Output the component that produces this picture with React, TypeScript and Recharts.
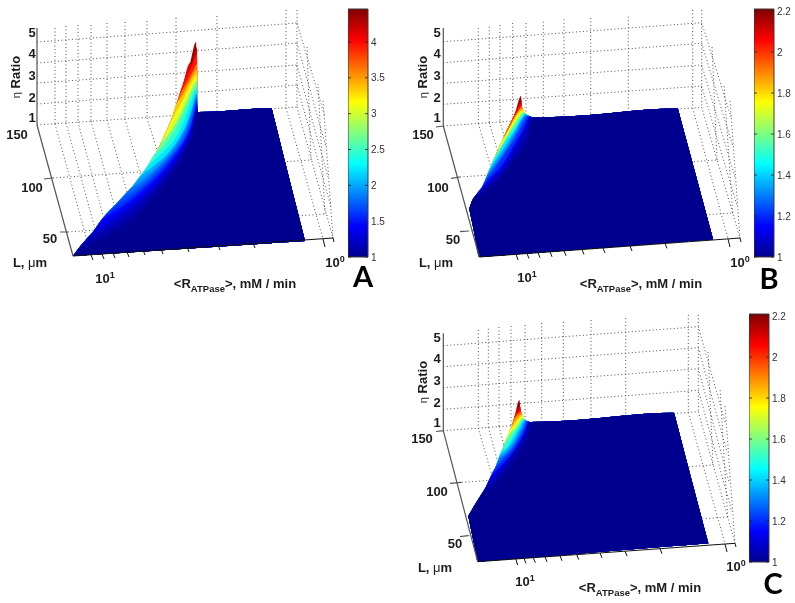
import { Area, Bar, ComposedChart, Line, ReferenceLine, XAxis, YAxis } from 'recharts';

type Pt = [number, number];
type Seg = [number, number, number, number];

// jet colormap, position on the bar -> colour
const jetStops: [number, string][] = [
  [0, '#00008f'],
  [0.125, '#0000ff'],
  [0.375, '#00ffff'],
  [0.625, '#ffff00'],
  [0.875, '#ff0000'],
  [1, '#800000'],
];

// Panel A
const aOuter: Pt[] = [[73, 256], [83, 243], [93, 232], [103, 218], [117, 203], [132, 187], [147, 167], [158, 149], [165, 134], [172, 118], [183, 84], [190, 63], [196, 42]];
const aRim: Pt[] = [[197.6, 112], [198.2, 112], [271, 108.1], [271.6, 108.6], [273, 114], [285, 162], [305, 241]];
const aFloor: Pt[] = [[73, 256], [305, 241]];
const aContours: [number, Pt[]][] = [
  [0.93, [[191, 64], [194, 56], [197, 47]]],
  [0.87, [[186, 78], [191, 68], [197, 55]]],
  [0.78, [[179, 97], [187, 82], [193, 71], [197, 64]]],
  [0.7, [[174, 110], [182, 96], [190, 81], [197, 70]]],
  [0.62, [[168, 127], [176, 112], [184, 98], [192, 82], [197, 75]]],
  [0.5, [[160, 145], [168, 135], [176, 123], [184, 107], [191, 91], [197, 81]]],
  [0.44, [[154, 155], [164, 146], [172, 135], [180, 121], [187, 106], [194, 91], [197, 85]]],
  [0.375, [[147, 167], [160, 155], [174, 140], [183, 124], [190, 105], [197, 89]]],
  [0.31, [[137, 180], [155, 165], [168, 153], [178, 140], [186, 125], [192, 108], [197, 93]]],
  [0.28, [[132, 187], [151, 172], [167, 157], [179, 140.5], [187, 125], [193, 107], [197, 95]]],
  [0.25, [[127, 192], [147, 178], [165, 160], [180, 141], [188, 125], [194, 106], [197, 97]]],
  [0.22, [[119, 201], [138, 188], [158, 170], [176, 150], [186, 133], [192.5, 115], [197, 98.5]]],
  [0.19, [[112, 209], [130, 197], [152, 179], [172, 156], [184, 140], [191, 124], [195, 109], [197, 100]]],
  [0.155, [[106, 216], [124, 205], [146, 187], [166, 167], [180, 148], [189, 131], [194, 115], [197, 102]]],
  [0.125, [[100, 222], [118, 212], [140, 195], [160, 176], [176, 156], [187, 138], [193, 122], [197, 104]]],
  [0.09, [[93, 232], [111, 221], [134, 204], [155, 185], [172, 164], [184.5, 145], [192, 127], [197, 106]]],
  [0.06, [[86, 240], [105, 229], [128, 213], [150, 193], [168, 172], [182, 152], [191, 132], [197, 108]]],
  [0.03, [[79, 250], [104, 235], [127, 221], [150, 199], [169, 176], [184, 152.5], [192.5, 132], [197.2, 110]]],
  [0, [[74, 255], [103, 241], [125, 229], [137, 219], [150, 205], [170, 180], [186, 153], [194, 132], [197.5, 112]]],
];
const aDotted: Seg[] = [
  [37, 42, 297, 23], [37, 63, 297, 43], [37, 83, 297, 65], [37, 104, 297, 85], [37, 125, 297, 107],
  [55, 28, 55, 124], [66, 26, 66, 123], [78, 25, 78, 122], [91, 25, 91, 121], [107, 23, 107, 120], [125, 22, 125, 119], [147, 21, 147, 118], [176, 18, 176, 116], [217, 16, 217, 113], [286, 10, 286, 108], [297, 10, 297, 107],
  [55, 124, 91, 255], [66, 123, 102, 254], [78, 122, 113, 253], [91, 121, 127, 252], [107, 120, 143, 250], [125, 119, 161, 249], [147, 118, 187, 247], [176, 116, 218, 245], [217, 113, 253, 243], [286, 108, 323, 239],
  [53, 178, 311, 160], [68, 232, 325, 214],
  [297, 23, 325, 117], [297, 43, 326, 147], [297, 65, 328, 177], [297, 85, 331, 207], [297, 107, 333, 238],
  [333, 238, 323, 100], [311, 160, 307, 46], [325, 214, 318, 84],
];
const aGreyAxes: Seg[] = [[37, 28, 37, 125], [37, 125, 73, 256], [44, 179, 53, 178], [60, 232, 68, 232]];
const aBlackAxes: Seg[] = [
  [73, 256, 333, 238],
  [91, 255, 93, 260], [102, 254, 104, 259], [113, 253, 115, 258], [127, 252, 129, 257], [143, 250, 145, 255], [161, 249, 163, 254], [187, 247, 189, 252], [218, 245, 220, 250], [253, 243, 255, 248], [323, 239, 325, 247],
  [333, 238, 334, 242],
];

// Panel B
const bOuter: Pt[] = [[469.3, 209], [471.7, 201.7], [476, 195], [482, 187], [490, 168], [499.3, 147], [507, 130], [515, 113], [521, 96]];
const bRim: Pt[] = [[522, 107], [525, 113.3], [528, 115.5], [533.3, 117.3], [560, 116.7], [677.2, 108.4], [677.9, 109], [679, 113], [689, 150], [713, 239.3]];
const bFloor: Pt[] = [[469.3, 209], [479.3, 257], [713, 239.3]];
const bContours: [number, Pt[]][] = [
  [0.93, [[517, 108], [519.5, 104], [521.5, 100]]],
  [0.87, [[514, 116], [517.5, 110], [521.7, 104]]],
  [0.78, [[507, 130], [512, 120], [518, 111], [521.9, 106.5]]],
  [0.7, [[503, 139], [510, 127], [517, 114], [522.7, 108.6]]],
  [0.62, [[500, 145], [507, 133], [514, 120], [520, 112], [523.5, 110.5]]],
  [0.5, [[495, 157], [503, 143], [510, 131], [517, 120], [524, 112.3]]],
  [0.44, [[493, 161], [501, 147.5], [508.5, 135], [515.5, 125], [524.7, 113]]],
  [0.375, [[491, 166], [499, 152], [507, 139], [514, 130], [520, 120], [525.5, 113.8]]],
  [0.31, [[489, 171], [498, 157], [507, 143], [515.5, 130], [521, 120], [526.2, 114.3]]],
  [0.25, [[487, 176], [497, 162], [507, 147], [517, 130], [522, 120], [527, 115]]],
  [0.19, [[484, 183], [493, 171], [503, 156], [515, 138], [522, 125], [528.5, 115.8]]],
  [0.125, [[481, 189], [490, 178], [500, 168], [513, 147], [523, 130], [530, 116.5]]],
  [0.09, [[479, 191], [489, 181], [501, 169.5], [514, 148.5], [524.5, 130], [530.7, 116.8]]],
  [0.06, [[477, 194], [488, 185], [503, 171], [516, 150], [526, 130], [531.5, 117]]],
  [0.03, [[475, 197], [485, 190], [498, 179], [513, 159], [527, 138], [532.2, 117.2]]],
  [0, [[473, 200], [483, 195], [493, 187], [510, 168], [523.3, 147], [531, 130], [533, 117.3]]],
];
const bDotted: Seg[] = [
  [443.3, 41.7, 701.7, 22.7], [443.3, 62.7, 701.7, 43.3], [443.3, 83.3, 701.7, 65], [443.3, 104.3, 701.7, 86], [443.3, 126, 701.7, 107.3],
  [478.3, 28, 478.3, 123.5], [489.3, 26.7, 489.3, 122.7], [500, 25, 500, 121.9], [512.7, 23, 512.7, 121], [526, 23, 526, 120], [543.3, 21.7, 543.3, 118.8], [564, 19.3, 564, 117.3], [590.7, 18, 590.7, 115.3], [628.3, 16.7, 628.3, 112.6], [692.7, 10, 692.7, 108], [701.7, 10, 701.7, 107.3],
  [478.3, 123.5, 516, 254.3], [489.3, 122.7, 527, 253.5], [500, 121.9, 538, 252.7], [512.7, 121, 550, 251.8], [526, 120, 564, 250.8], [543.3, 118.8, 582, 249.5], [564, 117.3, 603, 248], [590.7, 115.3, 630, 246], [628.3, 112.6, 665, 243.4], [692.7, 108, 728, 239],
  [460, 177, 717, 160], [468.3, 231, 732.7, 213],
  [701.7, 22.7, 731, 117], [701.7, 43.3, 733, 147], [701.7, 65, 735, 177], [701.7, 86, 737.5, 207], [701.7, 107.3, 740, 238],
  [740, 238, 730, 100], [717, 160, 712, 46], [732.7, 213, 724, 84],
];
const bGreyAxes: Seg[] = [[443.3, 28, 443.3, 126], [443.3, 126, 479.3, 257], [436, 127, 443.3, 126], [451, 178.3, 460, 177], [460, 231.7, 468.3, 231]];
const bBlackAxes: Seg[] = [
  [479.3, 257, 740, 238],
  [516, 254.3, 518, 260], [527, 253.5, 529, 258.5], [538, 252.7, 540, 257.7], [550, 251.8, 552, 256.8], [564, 250.8, 566, 255.8], [582, 249.5, 584, 254.5], [603, 248, 605, 253], [630, 246, 632, 251], [665, 243.4, 667, 248.4], [728, 239, 730, 247],
  [740, 238, 741, 242],
];

// Panel C
const cOuter: Pt[] = [[468.3, 516], [476, 503], [486, 486.7], [495.7, 466.7], [503.3, 446.7], [511.7, 426.7], [515, 415], [519.3, 400]];
const cRim: Pt[] = [[520.7, 410], [523.3, 418.3], [526, 420.5], [530, 422], [560, 421], [673.5, 412.8], [674.2, 413.4], [675.4, 418], [685, 455], [708.3, 543.3]];
const cFloor: Pt[] = [[468.3, 516], [477.7, 561.7], [708.3, 543.3]];
const cContours: [number, Pt[]][] = [
  [0.93, [[517.5, 408], [520.3, 407]]],
  [0.87, [[515.5, 414], [518, 412], [520.6, 409.6]]],
  [0.78, [[513, 421], [517, 415], [521.3, 412]]],
  [0.7, [[511.5, 426], [516, 419], [522, 414]]],
  [0.62, [[509.5, 431], [514.3, 425], [518.5, 419], [522.7, 415.5]]],
  [0.5, [[507, 438], [511, 432], [516.7, 426.7], [520, 421], [523.2, 418]]],
  [0.44, [[504, 445], [509.3, 439], [515.3, 431], [519.5, 424], [523.8, 418.9]]],
  [0.375, [[501, 452], [507.3, 446.7], [514, 435], [519, 426.7], [524.5, 419.5]]],
  [0.31, [[499, 457], [506, 450], [513, 441], [521, 426.7], [525.2, 420]]],
  [0.25, [[497, 463], [505, 454], [511.7, 446.7], [522.7, 426.7], [525.9, 420.4]]],
  [0.19, [[493, 471], [502, 460], [514, 446.7], [524.7, 426.7], [527.2, 421]]],
  [0.125, [[490, 478], [500, 466.7], [516.7, 446.7], [526.7, 426.7], [528.5, 421.5]]],
  [0.09, [[487, 484], [498.5, 471], [513, 452], [524, 434], [529, 421.7]]],
  [0.06, [[484, 490], [497, 476], [510, 458], [521, 442], [528.5, 426], [529.5, 421.8]]],
  [0.03, [[481, 495], [496, 481.5], [511, 462], [523, 444], [529.3, 428], [529.8, 421.9]]],
  [0, [[478, 500], [495, 486.7], [511.7, 466.7], [525, 446.7], [529.7, 433], [530, 422]]],
];
const cDotted: Seg[] = [
  [443.3, 345.7, 698.3, 326.7], [443.3, 366.7, 698.3, 347.7], [443.3, 387.7, 698.3, 368.7], [443.3, 409.3, 698.3, 390.3], [443.3, 430.7, 698.3, 411.7],
  [478.3, 330, 478.3, 428], [488.3, 328.7, 488.3, 427.3], [499, 327, 499, 426.5], [511, 326, 511, 425.7], [525, 325, 525, 424.6], [541.7, 323, 541.7, 423.4], [563.3, 322, 563.3, 421.8], [591, 320, 591, 419.7], [625.7, 318, 625.7, 417.1], [688.3, 315, 688.3, 412.4], [698.3, 315, 698.3, 411.7],
  [478.3, 428, 515.7, 559], [488.3, 427.3, 524, 558.4], [499, 426.5, 533.3, 557.7], [511, 425.7, 545, 556.9], [525, 424.6, 560, 555.8], [541.7, 423.4, 576.7, 554.6], [563.3, 421.8, 600, 552.9], [591, 419.7, 625, 551.1], [625.7, 417.1, 660, 548.7], [688.3, 412.4, 725, 544],
  [461.7, 482.3, 713, 465], [468.3, 535.7, 727.7, 517],
  [698.3, 326.7, 725, 422], [698.3, 347.7, 727, 452], [698.3, 368.7, 729, 482], [698.3, 390.3, 732, 512], [698.3, 411.7, 735, 543.3],
  [735, 543.3, 725, 405], [713, 465, 708, 350], [727.7, 517, 720, 388],
];
const cGreyAxes: Seg[] = [[443.3, 333.3, 443.3, 430.7], [443.3, 430.7, 477.7, 561.7], [436, 431.5, 443.3, 430.7], [450, 483.3, 461.7, 482.3], [460, 536.7, 468.3, 535.7]];
const cBlackAxes: Seg[] = [
  [477.7, 561.7, 735, 543.3],
  [515.7, 559, 517.7, 565], [524, 558.4, 526, 563.4], [533.3, 557.7, 535.3, 562.7], [545, 556.9, 547, 561.9], [560, 555.8, 562, 560.8], [576.7, 554.6, 578.7, 559.6], [600, 552.9, 602, 557.9], [625, 551.1, 627, 556.1], [660, 548.7, 662, 553.7], [725, 544, 727, 552],
  [735, 543.3, 736, 547],
];

// colour bars
const aBarTicks = [1, 1.5, 2, 2.5, 3, 3.5, 4];
const bcBarTicks = [1, 1.2, 1.4, 1.6, 1.8, 2, 2.2];

const panels = [
  { id: 'a', outer: aOuter, rim: aRim, floor: aFloor, contours: aContours, dotted: aDotted, grey: aGreyAxes, black: aBlackAxes },
  { id: 'b', outer: bOuter, rim: bRim, floor: bFloor, contours: bContours, dotted: bDotted, grey: bGreyAxes, black: bBlackAxes },
  { id: 'c', outer: cOuter, rim: cRim, floor: cFloor, contours: cContours, dotted: cDotted, grey: cGreyAxes, black: cBlackAxes },
];

const hexToRgb = (h: string) => [1, 3, 5].map((i) => parseInt(h.slice(i, i + 2), 16));

function jetColor(t: number) {
  for (let i = 1; i < jetStops.length; i++) {
    const [t0, c0] = jetStops[i - 1];
    const [t1, c1] = jetStops[i];
    if (t <= t1) {
      const f = (t - t0) / (t1 - t0);
      const a = hexToRgb(c0);
      const b = hexToRgb(c1);
      return `rgb(${a.map((v, k) => Math.round(v + (b[k] - v) * f)).join(',')})`;
    }
  }
  return jetStops[jetStops.length - 1][1];
}

// y of a polyline at x, so the upper and lower edge of a band share their x values
function yAt(line: Pt[], x: number) {
  for (let i = 1; i < line.length; i++) {
    const [x0, y0] = line[i - 1];
    const [x1, y1] = line[i];
    if (x <= x1) return y0 + ((x - x0) * (y1 - y0)) / (x1 - x0);
  }
  return line[line.length - 1][1];
}

function bandRows(top: Pt[], floor: Pt[]) {
  const xs = [...new Set([...top, ...floor].map((p) => p[0]))].sort((m, n) => m - n);
  return xs.map((x) => ({ x, span: [yAt(floor, x), yAt(top, x)] }));
}

function segRows(segs: Seg[]) {
  return segs.flatMap(([x1, y1, x2, y2]) => [
    { x: x1, y: y1 },
    { x: x2, y: y2 },
    { x: x2, y: null },
  ]);
}

function layers(p: (typeof panels)[number]) {
  const out = [{ key: 'top', top: [...p.outer, ...p.rim], fill: jetColor(0.97) }];
  p.contours.forEach(([t, pts]) => {
    out.push({
      key: String(t),
      top: [...p.outer.filter((q) => q[0] < pts[0][0]), ...pts, ...p.rim.filter((q) => q[0] > pts[pts.length - 1][0])],
      fill: jetColor(t === 0 ? 0 : Math.max(t - 0.02, 0)),
    });
  });
  return out;
}

function Txt({ x, y, size = 13, weight = 700, rotate = 0, font = 'Liberation Sans', color = '#1c1c1c', lh = 1, children }: any) {
  return (
    <div
      style={{
        position: 'absolute',
        left: x,
        top: y,
        transform: `translate(-50%, -50%) rotate(${rotate}deg)`,
        fontFamily: `"${font}", sans-serif`,
        fontSize: size,
        fontWeight: weight,
        color,
        whiteSpace: 'nowrap',
        lineHeight: lh,
      }}
    >
      {children}
    </div>
  );
}

const Sup = ({ children }: any) => <span style={{ fontSize: 9, position: 'relative', top: -5 }}>{children}</span>;
const Sub = ({ children }: any) => <span style={{ fontSize: 9.5, position: 'relative', top: 4 }}>{children}</span>;

function AxisText({ z5, z4, z3, z2, z1, zx, l150, l100, l50, unit, ten1, ten0, title, ratio }: any) {
  return (
    <>
      <Txt x={zx} y={z5}>5</Txt>
      <Txt x={zx} y={z4}>4</Txt>
      <Txt x={zx} y={z3}>3</Txt>
      <Txt x={zx} y={z2}>2</Txt>
      <Txt x={zx} y={z1}>1</Txt>
      <Txt x={l150[0]} y={l150[1]}>150</Txt>
      <Txt x={l100[0]} y={l100[1]}>100</Txt>
      <Txt x={l50[0]} y={l50[1]}>50</Txt>
      <Txt x={unit[0]} y={unit[1]}>L, <span style={{ fontWeight: 400 }}>μ</span>m</Txt>
      <Txt x={ten1[0]} y={ten1[1]}>10<Sup>1</Sup></Txt>
      <Txt x={ten0[0]} y={ten0[1]}>10<Sup>0</Sup></Txt>
      <Txt x={title[0]} y={title[1]}>&lt;R<Sub>ATPase</Sub>&gt;, mM / min</Txt>
      <Txt x={ratio[0]} y={ratio[1]} rotate={-90}><span style={{ fontWeight: 400, fontSize: 11 }}>η</span> Ratio</Txt>
    </>
  );
}

function ColorBar({ id, left, top, max, ticks }: { id: string; left: number; top: number; max: number; ticks: number[] }) {
  return (
    <div style={{ position: 'absolute', left, top: top - 8 }}>
      <ComposedChart
        width={50}
        height={264}
        data={[{ name: id, span: [1, max] }]}
        margin={{ top: 8, right: 0, bottom: 8, left: 0 }}
        barCategoryGap={0}
      >
        <defs>
          <linearGradient id={`jet-${id}`} x1="0" y1="1" x2="0" y2="0">
            {jetStops.map(([o, c]) => (
              <stop key={o} offset={o} stopColor={c} />
            ))}
          </linearGradient>
        </defs>
        <XAxis dataKey="name" hide />
        <YAxis
          yAxisId="labels"
          orientation="right"
          width={30}
          type="number"
          domain={[1, max]}
          ticks={ticks}
          interval={0}
          axisLine={false}
          tickLine={false}
          tickSize={0}
          tickMargin={3}
          tick={{ fontSize: 10, fill: '#333', fontFamily: 'Liberation Sans', textAnchor: 'start' }}
        />
        <Bar yAxisId="labels" dataKey="span" fill={`url(#jet-${id})`} stroke="#3a3a3a" strokeWidth={1} isAnimationActive={false} />
        {/* inward ticks on both sides of the 20px bar */}
        {ticks.map((t) => (
          <ReferenceLine key={t} yAxisId="labels" y={t} stroke="#222" strokeWidth={1} strokeOpacity={0.8} strokeDasharray="3 14 3 0" />
        ))}
      </ComposedChart>
    </div>
  );
}

const chartBox = { position: 'absolute', left: 0, top: 0 } as const;
const plotMargin = { top: 0, right: 0, bottom: 0, left: 0 };

export default function App() {
  return (
    <div style={{ position: 'absolute', left: 0, top: 0, width: 795, height: 603, background: '#fff', overflow: 'hidden', filter: 'blur(0.45px)' }}>
      {/* the grid sits behind the surface, so it gets its own chart underneath */}
      <div style={chartBox}>
        <ComposedChart width={795} height={603} margin={plotMargin}>
          <XAxis type="number" dataKey="x" domain={[0, 795]} hide allowDataOverflow />
          <YAxis type="number" domain={[0, 603]} reversed hide width={0} allowDataOverflow />
          {panels.map((p) => (
            <Line
              key={`${p.id}-dotted`}
              data={segRows(p.dotted)}
              dataKey="y"
              stroke="#4f4f4f"
              strokeWidth={1}
              strokeDasharray="1 2.5"
              dot={false}
              activeDot={false}
              isAnimationActive={false}
            />
          ))}
        </ComposedChart>
      </div>
      <div style={chartBox}>
        <ComposedChart width={795} height={603} margin={plotMargin}>
          <XAxis type="number" dataKey="x" domain={[0, 795]} hide allowDataOverflow />
          <YAxis type="number" domain={[0, 603]} reversed hide width={0} allowDataOverflow />
          {panels.flatMap((p) =>
            layers(p).map((l) => (
              <Area
                key={`${p.id}-${l.key}`}
                data={bandRows(l.top, p.floor)}
                dataKey="span"
                type="monotoneX"
                fill={l.fill}
                fillOpacity={1}
                stroke="none"
                dot={false}
                activeDot={false}
                isAnimationActive={false}
              />
            )),
          )}
          {panels.map((p) => (
            <Line
              key={`${p.id}-grey`}
              data={segRows(p.grey)}
              dataKey="y"
              stroke="#555"
              strokeWidth={1.2}
              dot={false}
              activeDot={false}
              isAnimationActive={false}
            />
          ))}
          {panels.map((p) => (
            <Line
              key={`${p.id}-black`}
              data={segRows(p.black)}
              dataKey="y"
              stroke="#111"
              strokeWidth={1}
              dot={false}
              activeDot={false}
              isAnimationActive={false}
            />
          ))}
        </ComposedChart>
      </div>

      <ColorBar id="a" left={348} top={9} max={4.46} ticks={aBarTicks} />
      <ColorBar id="b" left={754} top={9} max={2.21} ticks={bcBarTicks} />
      <ColorBar id="c" left={749} top={314} max={2.21} ticks={bcBarTicks} />

      <AxisText zx={32} z5={32} z4={53} z3={75} z2={97} z1={117} l150={[17, 134]} l100={[32, 187]} l50={[50, 238]} unit={[30, 262]} ten1={[105, 278]} ten0={[335, 262]} title={[235, 283]} ratio={[15, 77]} />
      <AxisText zx={437} z5={32} z4={53} z3={75} z2={97} z1={117} l150={[423, 134]} l100={[438, 187]} l50={[453, 239]} unit={[436, 262]} ten1={[527, 277]} ten0={[740, 262]} title={[641, 283]} ratio={[422, 77]} />
      <AxisText zx={437} z5={337} z4={358} z3={380} z2={402} z1={422} l150={[422, 438]} l100={[437, 491]} l50={[455, 543]} unit={[435, 567]} ten1={[525, 581]} ten0={[736, 566]} title={[640, 587]} ratio={[422, 382]} />

      <Txt x={363} y={276} size={29} font="Lato" color="#000" lh={0.72}>A</Txt>
      <Txt x={769} y={278} size={29} font="Lato" color="#000" lh={0.72}>B</Txt>
      <Txt x={773} y={583} size={29} font="Lato" color="#000" lh={0.72}>C</Txt>
    </div>
  );
}
